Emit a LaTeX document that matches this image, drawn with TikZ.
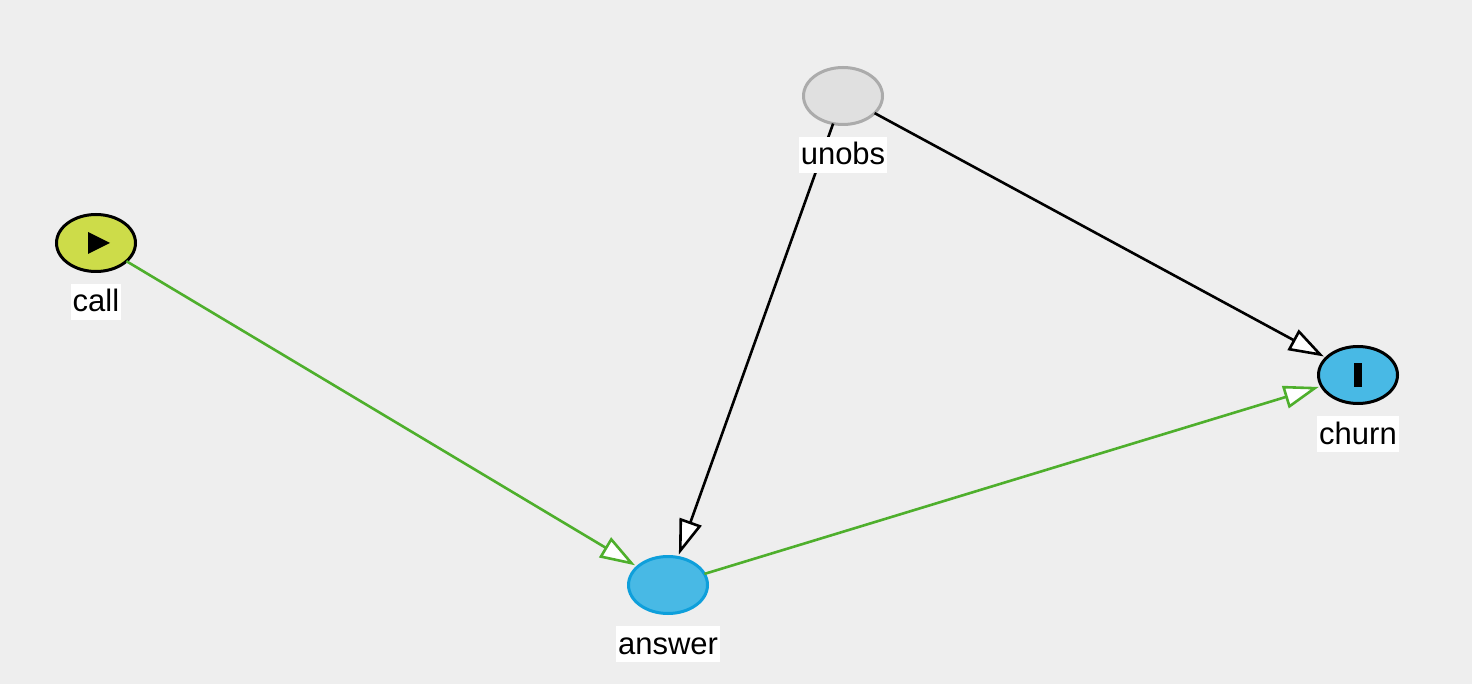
\documentclass[tikz,border=0pt]{standalone}
\usepackage{fontspec}
\setmainfont{Liberation Sans}
\usetikzlibrary{arrows.meta,shapes.geometric}
\definecolor{bg}{HTML}{EEEEEE}
\definecolor{callc}{HTML}{CDDC49}
\definecolor{bluec}{HTML}{48B9E5}
\definecolor{answerb}{HTML}{0E9FDB}
\definecolor{unobsf}{HTML}{E0E0E0}
\definecolor{unobsb}{HTML}{ABABAB}
\definecolor{greene}{HTML}{4EAF2C}
\begin{document}
\begin{tikzpicture}[x=1pt,y=-1pt,
  var/.style={ellipse, minimum width=79pt, minimum height=57pt, line width=3pt, inner sep=0pt, outer sep=0pt},
  lbl/.style={fill=white, inner xsep=2pt, inner ysep=2pt, text height=26pt, text depth=6pt, font=\fontsize{31}{36}\selectfont},
  edge/.style={line width=2.6pt, shorten >=3pt, -{Triangle[length=35pt,width=23pt,fill=white]}}]
\fill[bg] (0,0) rectangle (1472,684);
\useasboundingbox (0,0) rectangle (1472,684);
% nodes
\node[var, draw=black, fill=callc] (call) at (96,243) {};
\node[var, draw=unobsb, fill=unobsf] (unobs) at (843,96) {};
\node[var, draw=answerb, fill=bluec] (answer) at (668,585) {};
\node[var, draw=black, fill=bluec] (churn) at (1358,375) {};
% icons
\fill[black] (call.center) ++(-8,-11) -- ++(0,22) -- ++(22,-11) -- cycle;
\fill[black] (churn.center) ++(-4,-12) rectangle ++(8,24);
% edges
\draw[edge, draw=black] (unobs) -- (answer);
\draw[edge, draw=black] (unobs) -- (churn);
\draw[edge, draw=greene] (call) -- (answer);
\draw[edge, draw=greene] (answer) -- (churn);
% labels
\node[lbl] (calllbl) at (96,302) {call};
\node[lbl] (unobslbl) at (843,155) {unobs};
\node[lbl] (answerlbl) at (668,644) {answer};
\node[lbl] (churnlbl) at (1358,434) {churn};
\end{tikzpicture}
\end{document}
